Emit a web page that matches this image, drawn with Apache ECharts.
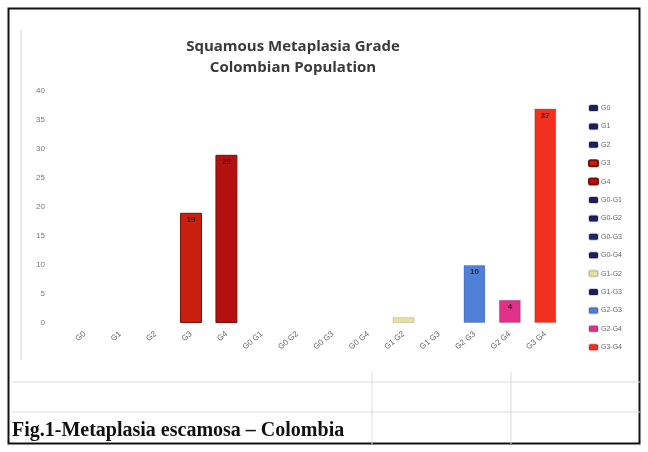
<!DOCTYPE html>
<html>
<head>
<meta charset="utf-8">
<script src="https://cdn.jsdelivr.net/npm/echarts@6/dist/echarts.min.js"></script>
<style>
html,body{margin:0;padding:0;background:#fff;}
#c{width:648px;height:452px;}
</style>
</head>
<body>
<div id="c"></div>
<script>
var categories = ['G0','G1','G2','G3','G4','G0 G1','G0 G2','G0 G3','G0 G4','G1 G2','G1 G3','G2 G3','G2 G4','G3 G4'];
var legendNames = ['G0','G1','G2','G3','G4','G0-G1','G0-G2','G0-G3','G0-G4','G1-G2','G1-G3','G2-G3','G2-G4','G3-G4'];
var values = [0, 0, 0, 19, 29, 0, 0, 0, 0, 1, 0, 10, 4, 37];
var shownLabels = [false,false,false,true,true,false,false,false,false,false,false,true,true,true];
var colors = ['#1b1f5e','#1b1f5e','#1b1f5e','#c8200e','#b51010','#1b1f5e','#1b1f5e','#1b2a6e','#1b1f5e','#e8e0a0','#1b1f5e','#4f7fd6','#e0308a','#f2301e'];
var yTicks = [0,5,10,15,20,25,30,35,40];

var chart = echarts.init(document.getElementById('c'));
var series = legendNames.map(function(name, i){
  var data = categories.map(function(c, j){ return (j === i && values[i] !== 0) ? values[i] : null; });
  return {
    name: name,
    type: 'bar',
    stack: 'all',
    barWidth: '62%',
    data: data,
    itemStyle: {color: colors[i], borderColor: i===3||i===4 ? '#7a1008' : 'rgba(0,0,0,0.15)', borderWidth: 1},
    label: {
      show: shownLabels[i],
      position: 'insideTop',
      distance: 3,
      fontSize: 8,
      fontWeight: 'bold',
      color: '#3a1a1a'
    }
  };
});

chart.setOption({
  animation: false,
  backgroundColor: '#fff',
  title: {
    text: 'Squamous Metaplasia Grade\nColombian Population',
    left: 288,
    textAlign: 'center',
    top: 31,
    textStyle: {fontFamily: 'Open Sans', fontSize: 15, fontWeight: 'bold', color: '#3a3a3a', lineHeight: 21}
  },
  legend: {
    orient: 'vertical',
    left: 583,
    top: 99,
    itemGap: 10.4,
    itemWidth: 9,
    itemHeight: 6,
    icon: 'roundRect',
    textStyle: {fontSize: 7, color: '#666', fontFamily: 'Liberation Sans', padding: [0,0,0,-2]},
    data: legendNames
  },
  grid: {left: 67, right: 85, top: 91, bottom: 129},
  xAxis: {
    type: 'category',
    data: categories,
    axisLine: {show: false},
    axisTick: {show: false},
    axisLabel: {rotate: 40, fontSize: 8, color: '#666', margin: 10, interval: 0, fontFamily: 'Liberation Sans'}
  },
  yAxis: {
    type: 'value',
    min: yTicks[0],
    max: yTicks[yTicks.length-1],
    interval: 5,
    axisLine: {show: false},
    axisTick: {show: false},
    splitLine: {show: false},
    axisLabel: {fontSize: 8, color: '#777', margin: 22, fontFamily: 'Liberation Sans'}
  },
  graphic: [
    {type: 'rect', shape: {x: 8.5, y: 8.5, width: 631, height: 435}, style: {fill: 'none', stroke: '#111', lineWidth: 2}, silent: true},
    {type: 'line', shape: {x1: 21, y1: 30, x2: 21, y2: 360}, style: {stroke: '#d8d8d8', lineWidth: 1}},
    {type: 'line', shape: {x1: 12, y1: 382, x2: 640, y2: 382}, style: {stroke: '#dcdcdc', lineWidth: 1}},
    {type: 'line', shape: {x1: 12, y1: 412, x2: 640, y2: 412}, style: {stroke: '#dcdcdc', lineWidth: 1}},
    {type: 'line', shape: {x1: 372, y1: 372, x2: 372, y2: 444}, style: {stroke: '#dcdcdc', lineWidth: 1}},
    {type: 'line', shape: {x1: 511, y1: 372, x2: 511, y2: 444}, style: {stroke: '#dcdcdc', lineWidth: 1}},
    {type: 'text', left: 12, top: 421, style: {text: 'Fig.1-Metaplasia escamosa \u2013 Colombia', font: 'bold 20px "Liberation Serif"', fill: '#111'}}
  ],
  series: series
});
</script>
</body>
</html>
